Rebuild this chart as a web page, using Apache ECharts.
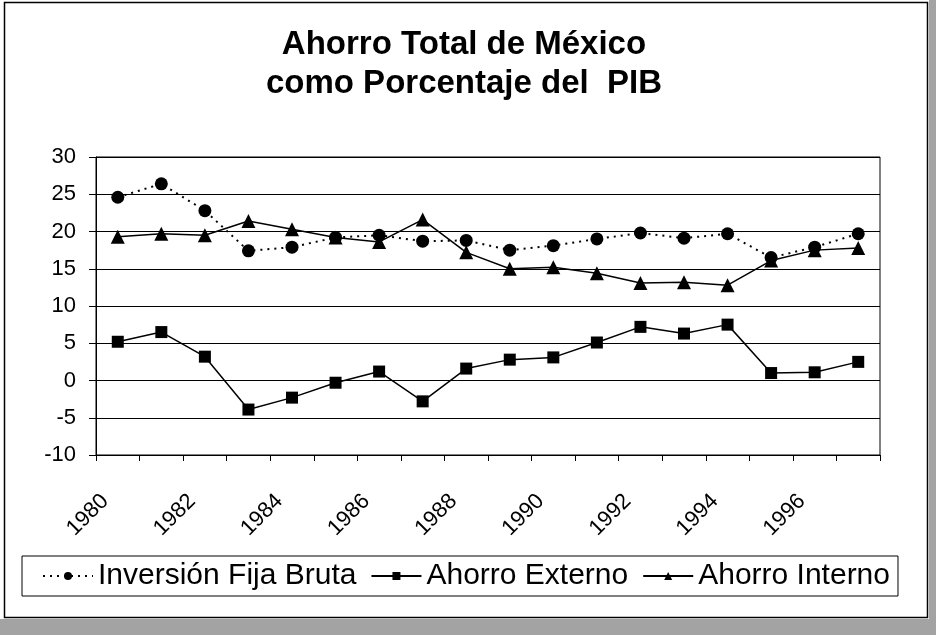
<!DOCTYPE html>
<html>
<head>
<meta charset="utf-8">
<script src="https://cdn.jsdelivr.net/npm/echarts@6/dist/echarts.min.js"></script>
<style>
  html, body { margin: 0; padding: 0; background: #fff; }
  #chart { width: 936px; height: 635px; }
</style>
</head>
<body>
<div id="chart"></div>
<script>
// años (categorías del eje x)
var years = ['1980','1981','1982','1983','1984','1985','1986','1987','1988',
             '1989','1990','1991','1992','1993','1994','1995','1996','1997'];

// series, % del PIB
var inversionFijaBruta = [24.6, 26.4, 22.8, 17.4, 17.9, 19.2, 19.5, 18.7, 18.8,
                          17.5, 18.1, 19.0, 19.8, 19.1, 19.7, 16.5, 17.9, 19.7];
var ahorroExterno = [5.2, 6.5, 3.2, -3.9, -2.3, -0.3, 1.2, -2.8, 1.6,
                     2.8, 3.1, 5.1, 7.2, 6.3, 7.5, 1.0, 1.1, 2.5];
var ahorroInterno = [19.3, 19.7, 19.5, 21.4, 20.3, 19.2, 18.6, 21.6, 17.2,
                     15.0, 15.2, 14.4, 13.1, 13.2, 12.8, 16.1, 17.5, 17.8];

var seriesNames = ['Inversión Fija Bruta', 'Ahorro Externo', 'Ahorro Interno'];

var fontFam = 'Liberation Sans, Arial, sans-serif';

var chart = echarts.init(document.getElementById('chart'));

var option = {
    backgroundColor: '#fff',
    animation: false,
    textStyle: { fontFamily: fontFam, color: '#000' },
    // marco exterior y bordes grises del escaneo
    graphic: [
        { type: 'rect', left: 929, top: 0, shape: { width: 7, height: 635 },
          style: { fill: '#a3a3a3' }, silent: true },
        { type: 'rect', left: 0, top: 619, shape: { width: 936, height: 16 },
          style: { fill: '#a3a3a3' }, silent: true },
        { type: 'rect', shape: { x: 4.5, y: 2.5, width: 923, height: 615 },
          style: { fill: 'none', stroke: '#000', lineWidth: 1.5 }, silent: true }
    ],
    title: {
        text: 'Ahorro Total de México\ncomo Porcentaje del  PIB',
        left: 459,
        textAlign: 'center',
        top: 20,
        textStyle: {
            fontFamily: fontFam,
            fontSize: 33,
            fontWeight: 'bold',
            color: '#000',
            lineHeight: 39
        }
    },
    legend: {
        data: seriesNames,
        left: 22,
        top: 556,
        orient: 'horizontal',
        borderColor: '#000',
        borderWidth: 1,
        padding: [5, 8, 5, 20],
        itemWidth: 50,
        itemHeight: 10,
        itemGap: 14,
        textStyle: { fontFamily: fontFam, fontSize: 30, color: '#000' }
    },
    grid: {
        left: 96,
        right: 56,
        top: 157,
        bottom: 180,
        show: true,
        borderColor: '#000',
        borderWidth: 1
    },
    xAxis: {
        type: 'category',
        data: years,
        boundaryGap: true,
        axisLine: { onZero: false, lineStyle: { color: '#000', width: 1 } },
        axisTick: { show: true, interval: 0, length: 6, lineStyle: { color: '#000' } },
        axisLabel: {
            interval: 1,
            rotate: 45,
            margin: 30,
            padding: [0, 18, 0, 0],
            fontSize: 22,
            color: '#000',
            fontFamily: fontFam
        },
        splitLine: { show: false }
    },
    yAxis: {
        type: 'value',
        min: -10,
        max: 30,
        interval: 5,
        axisLine: { show: true, lineStyle: { color: '#000', width: 1 } },
        axisTick: { show: true, length: 7, lineStyle: { color: '#000' } },
        axisLabel: { fontSize: 22, color: '#000', margin: 20, fontFamily: fontFam },
        splitLine: { show: true, lineStyle: { color: '#000', width: 1 } }
    },
    series: [{
        name: seriesNames[0],
        type: 'line',
        data: inversionFijaBruta,
        symbol: 'circle',
        symbolSize: 13,
        itemStyle: { color: '#000' },
        lineStyle: { color: '#000', width: 2, type: [2, 5] }
    }, {
        name: seriesNames[1],
        type: 'line',
        data: ahorroExterno,
        symbol: 'rect',
        symbolSize: 12,
        itemStyle: { color: '#000' },
        lineStyle: { color: '#000', width: 1.5, type: 'solid' }
    }, {
        name: seriesNames[2],
        type: 'line',
        data: ahorroInterno,
        symbol: 'triangle',
        symbolSize: 14,
        itemStyle: { color: '#000' },
        lineStyle: { color: '#000', width: 1.5, type: 'solid' }
    }]
};

chart.setOption(option);
</script>
</body>
</html>
